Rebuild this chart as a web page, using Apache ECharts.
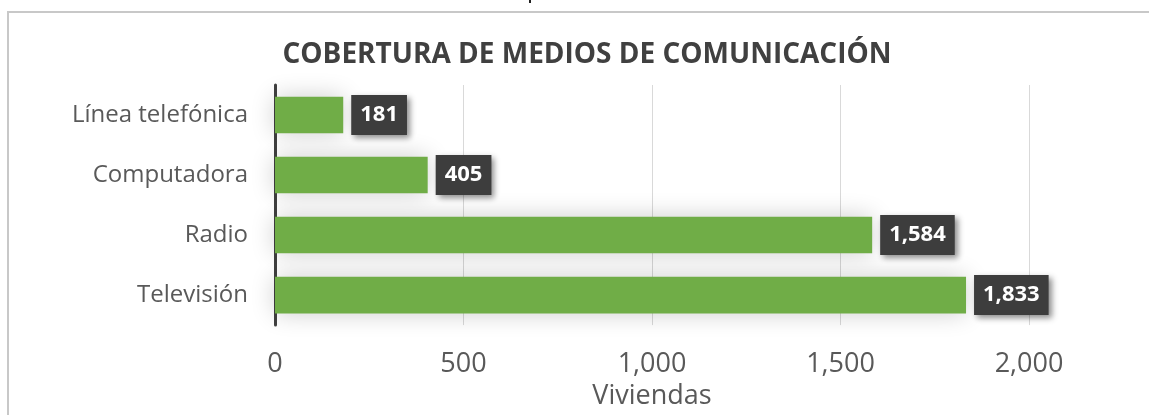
<!DOCTYPE html>
<html>
<head>
<meta charset="utf-8">
<script src="https://cdn.jsdelivr.net/npm/echarts@6/dist/echarts.min.js"></script>
<style>
    html, body { margin: 0; padding: 0; background: #fff; }
    #chart { width: 1149px; height: 415px; }
</style>
</head>
<body>
<div id="chart"></div>
<script>
// datos
var categorias = ['Línea telefónica', 'Computadora', 'Radio', 'Televisión'];
var viviendas = [181, 405, 1584, 1833];
var titulo = 'COBERTURA DE MEDIOS DE COMUNICACIÓN';
var nombreEje = 'Viviendas';

var fuente = '"Open Sans", "Noto Sans", sans-serif';

var chart = echarts.init(document.getElementById('chart'));
chart.setOption({
    animation: false,
    title: {
        text: titulo,
        left: 582,
        textAlign: 'center',
        top: 36,
        textStyle: {
            fontFamily: fuente,
            fontWeight: 'bold',
            fontSize: 28,
            color: '#404040'
        }
    },
    // marco del grafico
    graphic: [{
        type: 'polyline',
        shape: { points: [[8, 415], [8, 12], [1149, 12]] },
        style: { stroke: '#c8c8c8', lineWidth: 2, fill: null }
    }, {
        type: 'rect',
        shape: { x: 529, y: 0, width: 2, height: 3 },
        style: { fill: '#202020' }
    }],
    grid: {
        left: 275,
        right: 120,
        top: 85,
        height: 243,
        containLabel: false
    },
    xAxis: {
        type: 'value',
        min: 0,
        max: 2000,
        interval: 500,
        name: nombreEje,
        nameLocation: 'middle',
        nameGap: 57,
        nameTextStyle: {
            fontFamily: fuente,
            fontSize: 27,
            color: '#595959'
        },
        axisLine: { show: false },
        axisTick: { show: false },
        axisLabel: {
            margin: 26,
            fontFamily: fuente,
            fontSize: 27,
            color: '#595959',
            formatter: function (v) { return v.toLocaleString('en-US'); }
        },
        splitLine: { lineStyle: { color: '#d9d9d9', width: 1 } }
    },
    yAxis: {
        type: 'category',
        inverse: true,
        data: categorias,
        axisLine: { lineStyle: { color: '#404040', width: 3 } },
        axisTick: { show: false },
        axisLabel: {
            margin: 27,
            fontFamily: fuente,
            fontSize: 24,
            color: '#595959'
        }
    },
    series: [{
        type: 'bar',
        data: viviendas,
        barCategoryGap: '39%',
        itemStyle: {
            color: '#70ad47',
            shadowBlur: 24,
            shadowColor: 'rgba(0,0,0,0.2)'
        },
        label: {
            show: true,
            position: 'right',
            distance: 8,
            fontFamily: fuente,
            fontWeight: 'bold',
            fontSize: 22,
            color: '#ffffff',
            backgroundColor: '#3d3d3d',
            padding: [9, 9, 9, 9],
            shadowBlur: 6,
            shadowOffsetX: 3,
            shadowOffsetY: 3,
            shadowColor: 'rgba(0,0,0,0.45)',
            formatter: function (p) { return p.value.toLocaleString('en-US'); }
        }
    }]
});
</script>
</body>
</html>
